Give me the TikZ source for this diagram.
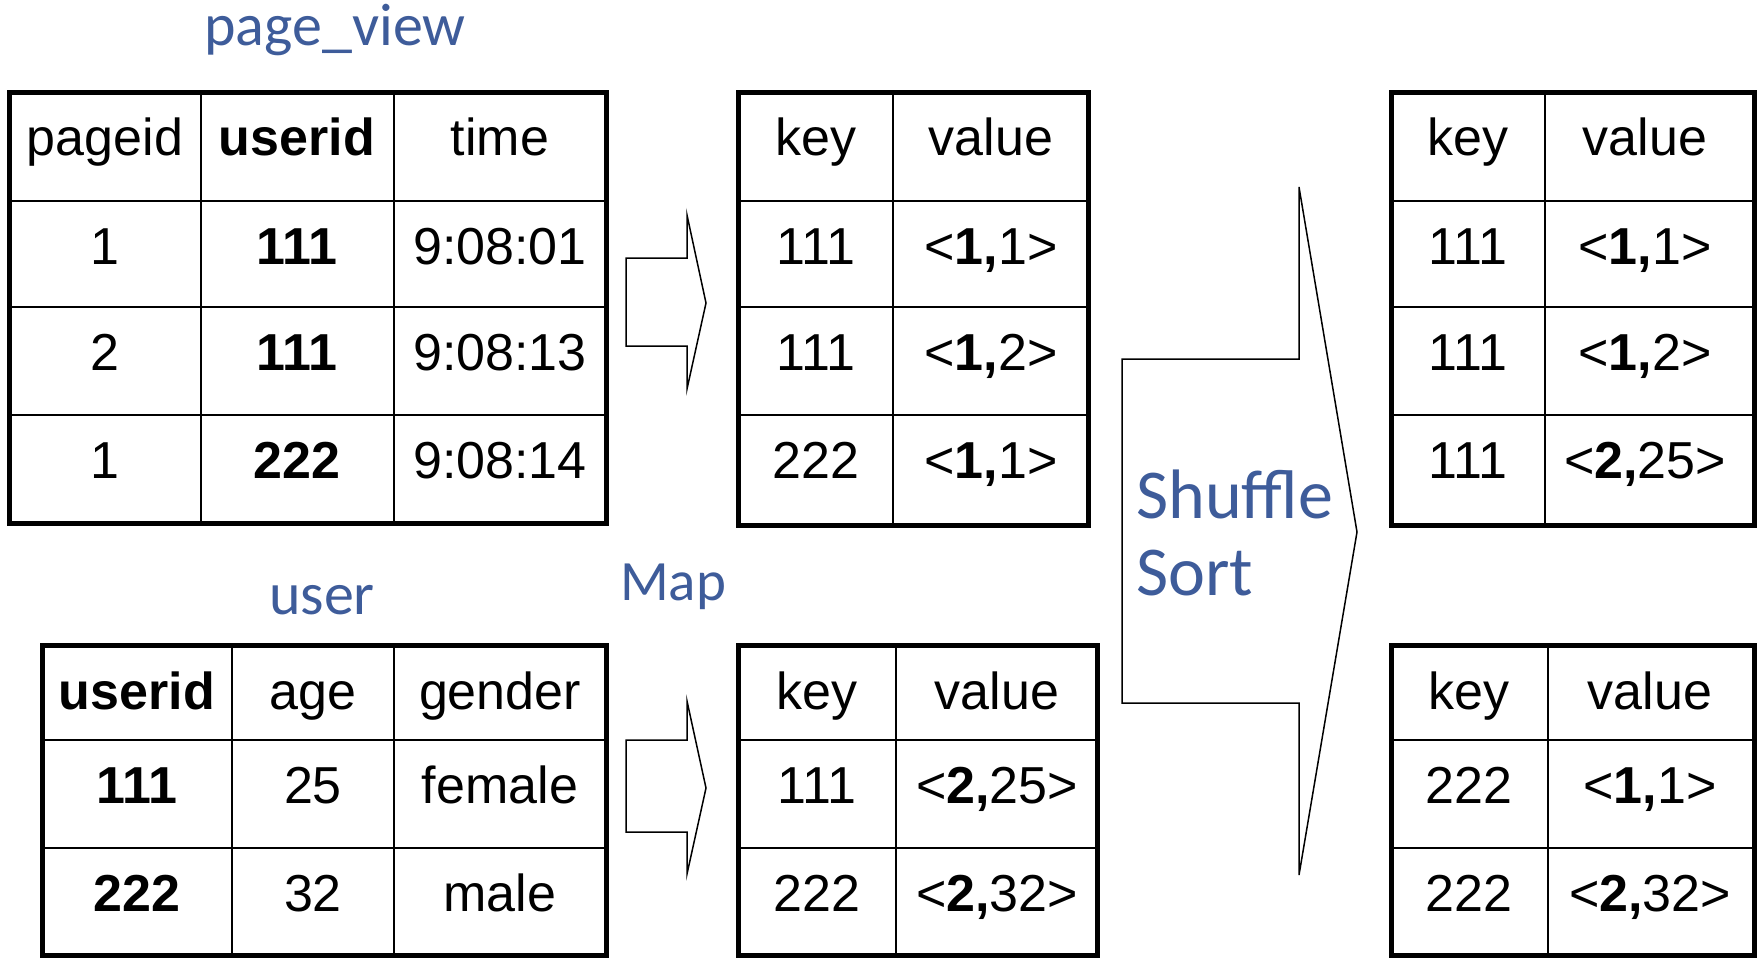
\documentclass[tikz,border=0pt]{standalone}
\usepackage{fontspec}
\setmainfont{Liberation Sans}
\newfontfamily\titlefont{Carlito}
\definecolor{titleblue}{RGB}{62,92,154}
\begin{document}
\begin{tikzpicture}[x=1pt,y=-1pt,
  cell/.style={font=\fontsize{52}{60}\selectfont, inner sep=0, anchor=base},
  ttl/.style={font=\titlefont\fontsize{60}{70}\selectfont, text=titleblue, inner sep=0, anchor=base},
  bigttl/.style={font=\titlefont\fontsize{70}{80}\selectfont, text=titleblue, inner sep=0, anchor=base west},
  outerline/.style={line width=5pt},
  innerline/.style={line width=2.5pt},
  blockarrow/.style={line width=1.5pt, fill=white, line join=miter}]
\useasboundingbox (0,0) rectangle (1759,959);

% ---------- titles ----------
\node[ttl] (tpv) at (335,45) {page\_view};
\node[ttl] (tuser) at (322,614) {user};
\node[ttl, font=\titlefont\fontsize{57}{66}\selectfont, anchor=base west] (tmap) at (620,600) {Map};

% ---------- table page_view ----------
\draw[innerline] (201,92) -- (201,523) (394,92) -- (394,523)
  (9,201) -- (606,201) (9,307) -- (606,307) (9,415) -- (606,415);
\draw[outerline] (9,92) rectangle (606,523);
\node[cell] (pv11) at (105,155) {pageid};
\node[cell] (pv12) at (297,155) {\bfseries userid};
\node[cell] (pv13) at (500,155) {time};
\node[cell] (pv21) at (105,264) {1};
\node[cell] (pv22) at (297,264) {\bfseries 111};
\node[cell] (pv23) at (500,264) {9:08:01};
\node[cell] (pv31) at (105,370) {2};
\node[cell] (pv32) at (297,370) {\bfseries 111};
\node[cell] (pv33) at (500,370) {9:08:13};
\node[cell] (pv41) at (105,478) {1};
\node[cell] (pv42) at (297,478) {\bfseries 222};
\node[cell] (pv43) at (500,478) {9:08:14};

% ---------- table user ----------
\draw[innerline] (232,645) -- (232,955) (394,645) -- (394,955)
  (42,740) -- (606,740) (42,848) -- (606,848);
\draw[outerline] (42,645) rectangle (606,955);
\node[cell] (us11) at (137,709) {\bfseries userid};
\node[cell] (us12) at (313,709) {age};
\node[cell] (us13) at (500,709) {gender};
\node[cell] (us21) at (137,803) {\bfseries 111};
\node[cell] (us22) at (313,803) {25};
\node[cell] (us23) at (500,803) {female};
\node[cell] (us31) at (137,911) {\bfseries 222};
\node[cell] (us32) at (313,911) {32};
\node[cell] (us33) at (500,911) {male};

% ---------- map arrows ----------
\draw[blockarrow] (626,258) -- (687,258) -- (687,215) -- (706,303) -- (687,389)
  -- (687,346) -- (626,346) -- cycle;
\draw[blockarrow] (626,740) -- (687,740) -- (687,701) -- (706,788) -- (687,874)
  -- (687,832) -- (626,832) -- cycle;

% ---------- map output 1 ----------
\draw[innerline] (893,92) -- (893,525)
  (738,201) -- (1088,201) (738,307) -- (1088,307) (738,415) -- (1088,415);
\draw[outerline] (738,92) rectangle (1088,525);
\node[cell] (m11) at (816,155) {key};
\node[cell] (m12) at (991,155) {value};
\node[cell] (m21) at (816,264) {111};
\node[cell] (m22) at (991,264) {<\textbf{1,}1>};
\node[cell] (m31) at (816,370) {111};
\node[cell] (m32) at (991,370) {<\textbf{1,}2>};
\node[cell] (m41) at (816,478) {222};
\node[cell] (m42) at (991,478) {<\textbf{1,}1>};

% ---------- map output 2 ----------
\draw[innerline] (896,645) -- (896,955)
  (738,740) -- (1097,740) (738,848) -- (1097,848);
\draw[outerline] (738,645) rectangle (1097,955);
\node[cell] (n11) at (817,709) {key};
\node[cell] (n12) at (997,709) {value};
\node[cell] (n21) at (817,803) {111};
\node[cell] (n22) at (997,803) {<\textbf{2,}25>};
\node[cell] (n31) at (817,911) {222};
\node[cell] (n32) at (997,911) {<\textbf{2,}32>};

% ---------- shuffle/sort arrow ----------
\draw[blockarrow] (1122,359) -- (1299,359) -- (1299,187) -- (1357,532) -- (1299,875)
  -- (1299,703) -- (1122,703) -- cycle;
\node[bigttl] (tshuffle) at (1136,518) {Shuffle};
\node[bigttl] (tsort) at (1136,595) {Sort};

% ---------- reduce input 1 ----------
\draw[innerline] (1545,92) -- (1545,525)
  (1391,201) -- (1754,201) (1391,307) -- (1754,307) (1391,415) -- (1754,415);
\draw[outerline] (1391,92) rectangle (1754,525);
\node[cell] (r11) at (1468,155) {key};
\node[cell] (r12) at (1645,155) {value};
\node[cell] (r21) at (1468,264) {111};
\node[cell] (r22) at (1645,264) {<\textbf{1,}1>};
\node[cell] (r31) at (1468,370) {111};
\node[cell] (r32) at (1645,370) {<\textbf{1,}2>};
\node[cell] (r41) at (1468,478) {111};
\node[cell] (r42) at (1645,478) {<\textbf{2,}25>};

% ---------- reduce input 2 ----------
\draw[innerline] (1548,645) -- (1548,955)
  (1391,740) -- (1754,740) (1391,848) -- (1754,848);
\draw[outerline] (1391,645) rectangle (1754,955);
\node[cell] (s11) at (1469,709) {key};
\node[cell] (s12) at (1650,709) {value};
\node[cell] (s21) at (1469,803) {222};
\node[cell] (s22) at (1650,803) {<\textbf{1,}1>};
\node[cell] (s31) at (1469,911) {222};
\node[cell] (s32) at (1650,911) {<\textbf{2,}32>};
\end{tikzpicture}
\end{document}
